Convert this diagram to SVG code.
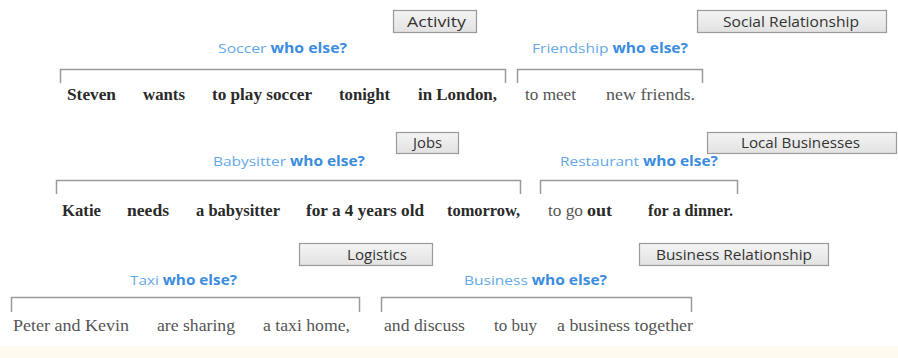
<svg xmlns="http://www.w3.org/2000/svg" width="898" height="358" viewBox="0 0 898 358">
<defs>
<linearGradient id="boxfill" x1="0" y1="0" x2="0" y2="1">
<stop offset="0" stop-color="#f4f4f4"/>
<stop offset="1" stop-color="#e2e2e2"/>
</linearGradient>
<style>
.box rect{fill:url(#boxfill);stroke:#9a9a9a;stroke-width:1.2}
.box text{font-family:"Open Sans","Liberation Sans",sans-serif;font-size:14px;fill:#333}
.q{font-family:"Open Sans","Liberation Sans",sans-serif;font-size:13.5px;fill:#65a8e8}
.q .b{font-weight:bold;fill:#3a8ce0}
.br{fill:none;stroke:#9a9a9a;stroke-width:1.5}
.s{font-family:"Liberation Serif","Times New Roman",serif;font-size:17px}
.k{font-weight:bold;fill:#2a2a2a}
.r{fill:#555}
</style>
</defs>
<rect x="0" y="0" width="898" height="358" fill="#ffffff"/>
<rect x="0" y="346" width="898" height="12" fill="#fffaf0"/>

<g id="activity" class="box"><rect x="393.5" y="10.5" width="83" height="22"/><text x="407" y="26.5" textLength="59" lengthAdjust="spacingAndGlyphs">Activity</text></g>
<g id="social-relationship" class="box"><rect x="697.5" y="10.5" width="189" height="22"/><text x="723" y="26.5" textLength="136" lengthAdjust="spacingAndGlyphs">Social Relationship</text></g>
<g id="jobs" class="box"><rect x="396.5" y="132.5" width="62" height="21"/><text x="413" y="148" textLength="29" lengthAdjust="spacingAndGlyphs">Jobs</text></g>
<g id="local-businesses" class="box"><rect x="707.5" y="132.5" width="189" height="21"/><text x="741" y="148" textLength="119" lengthAdjust="spacingAndGlyphs">Local Businesses</text></g>
<g id="logistics" class="box"><rect x="299.5" y="243.5" width="133" height="22"/><text x="347" y="259.5" textLength="60" lengthAdjust="spacingAndGlyphs">Logistics</text></g>
<g id="business-relationship" class="box"><rect x="639.5" y="243.5" width="189" height="22"/><text x="656" y="259.5" textLength="156" lengthAdjust="spacingAndGlyphs">Business Relationship</text></g>

<g id="questions">
<text class="q" x="218" y="53" textLength="129" lengthAdjust="spacingAndGlyphs">Soccer <tspan class="b">who else?</tspan></text>
<text class="q" x="532" y="53" textLength="156" lengthAdjust="spacingAndGlyphs">Friendship <tspan class="b">who else?</tspan></text>
<text class="q" x="213" y="166" textLength="152" lengthAdjust="spacingAndGlyphs">Babysitter <tspan class="b">who else?</tspan></text>
<text class="q" x="560" y="166" textLength="158" lengthAdjust="spacingAndGlyphs">Restaurant <tspan class="b">who else?</tspan></text>
<text class="q" x="130" y="285" textLength="107" lengthAdjust="spacingAndGlyphs">Taxi <tspan class="b">who else?</tspan></text>
<text class="q" x="464" y="285" textLength="143" lengthAdjust="spacingAndGlyphs">Business <tspan class="b">who else?</tspan></text>
</g>

<g id="connectors">
<path class="br" d="M60.5 83 V69.5 H505.5 V83"/>
<path class="br" d="M517.5 83 V69.5 H702.5 V83"/>
<path class="br" d="M56.5 194 V180.5 H520.5 V194"/>
<path class="br" d="M540.5 194 V180.5 H737.5 V194"/>
<path class="br" d="M11.5 312 V297.5 H359.5 V312"/>
<path class="br" d="M381.5 312 V297.5 H691.5 V312"/>
</g>

<g id="sentence-1" class="s">
<text class="k" x="67" y="100" textLength="49" lengthAdjust="spacingAndGlyphs">Steven</text>
<text class="k" x="143" y="100" textLength="42" lengthAdjust="spacingAndGlyphs">wants</text>
<text class="k" x="212" y="100" textLength="100" lengthAdjust="spacingAndGlyphs">to play soccer</text>
<text class="k" x="339" y="100" textLength="51" lengthAdjust="spacingAndGlyphs">tonight</text>
<text class="k" x="418" y="100" textLength="79" lengthAdjust="spacingAndGlyphs">in London,</text>
<text class="r" x="525" y="100" textLength="51" lengthAdjust="spacingAndGlyphs">to meet</text>
<text class="r" x="606" y="100" textLength="89" lengthAdjust="spacingAndGlyphs">new friends.</text>
</g>

<g id="sentence-2" class="s">
<text class="k" x="62" y="216" textLength="39" lengthAdjust="spacingAndGlyphs">Katie</text>
<text class="k" x="127" y="216" textLength="42" lengthAdjust="spacingAndGlyphs">needs</text>
<text class="k" x="196" y="216" textLength="84" lengthAdjust="spacingAndGlyphs">a babysitter</text>
<text class="k" x="306" y="216" textLength="118" lengthAdjust="spacingAndGlyphs">for a 4 years old</text>
<text class="k" x="447" y="216" textLength="73" lengthAdjust="spacingAndGlyphs">tomorrow,</text>
<text class="r" x="548" y="216" textLength="35" lengthAdjust="spacingAndGlyphs">to go</text>
<text class="k" x="587" y="216" textLength="25" lengthAdjust="spacingAndGlyphs">out</text>
<text class="k" x="648" y="216" textLength="85" lengthAdjust="spacingAndGlyphs">for a dinner.</text>
</g>

<g id="sentence-3" class="s">
<text class="r" x="13" y="331" textLength="116" lengthAdjust="spacingAndGlyphs">Peter and Kevin</text>
<text class="r" x="157" y="331" textLength="78" lengthAdjust="spacingAndGlyphs">are sharing</text>
<text class="r" x="263" y="331" textLength="87" lengthAdjust="spacingAndGlyphs">a taxi home,</text>
<text class="r" x="384" y="331" textLength="81" lengthAdjust="spacingAndGlyphs">and discuss</text>
<text class="r" x="494" y="331" textLength="43" lengthAdjust="spacingAndGlyphs">to buy</text>
<text class="r" x="557" y="331" textLength="136" lengthAdjust="spacingAndGlyphs">a business together</text>
</g>
</svg>
